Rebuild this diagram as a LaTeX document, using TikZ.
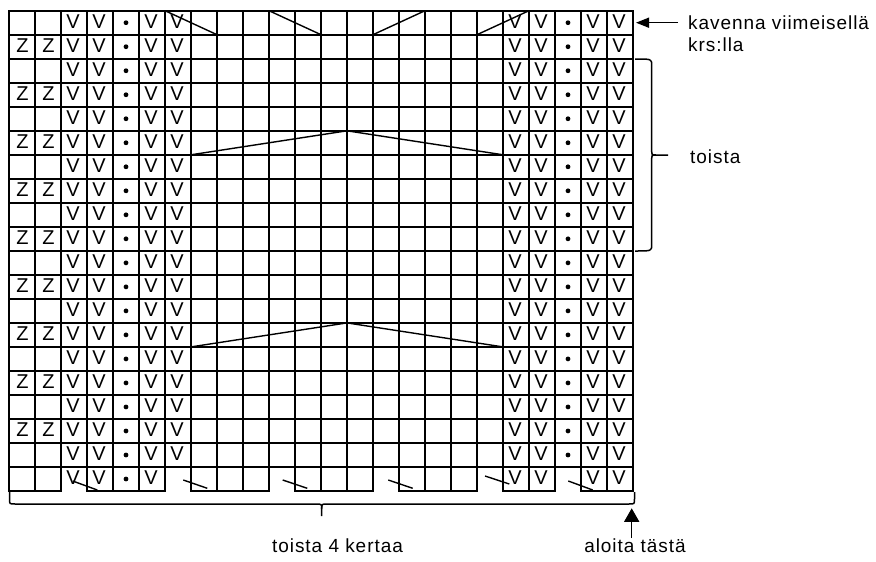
\documentclass[tikz,border=0pt]{standalone}
\usepackage{fontspec}
\setmainfont{Liberation Sans}
\newfontfamily\labelfont[LetterSpace=5]{Liberation Sans}
\usetikzlibrary{arrows.meta}
\begin{document}
\begin{tikzpicture}[x=1pt,y=-1pt,
  gridline/.style={line width=1.7pt, line cap=rect},
  thinline/.style={line width=1.4pt},
  sym/.style={font=\fontsize{20}{20}\selectfont, anchor=base, inner sep=0pt},
  dotmark/.style={circle, fill=black, inner sep=0pt, minimum size=4.8pt},
  lbl/.style={font=\labelfont\fontsize{19}{21}\selectfont, inner sep=0pt, anchor=base west},
  lblc/.style={font=\labelfont\fontsize{19}{21}\selectfont, inner sep=0pt, anchor=base},
  arrL/.style={line width=1.5pt, -{Triangle[length=13pt,width=10pt]}},
  arrU/.style={line width=1.5pt, -{Triangle[length=13.5pt,width=15pt]}},
  brace/.style={line width=1.5pt}
]
\useasboundingbox (0,0) rectangle (876,562);
\fill[white] (0,0) rectangle (876,562);
% vertical grid lines
\foreach \i in {0,...,24}
  \draw[gridline] ({9+26*\i},10.7) -- ({9+26*\i},491);
% horizontal grid lines
\foreach \j in {0,...,19}
  \draw[gridline] (9,{10.7+24.015*\j}) -- (633,{10.7+24.015*\j});
% bottom line, with gaps
\foreach \a/\b in {9/61, 87/165, 191/269, 295/373, 399/477, 503/555, 581/633}
  \draw[gridline] (\a,491) -- (\b,491);
% symbols rows 1..19
\foreach \r in {1,...,19} {
  \foreach \c in {3,4,6,7,20,21,23,24}
    \node[sym] (v\r-\c) at ({9+26*(\c-1)+12},{10.7+24.015*(\r-1)+17.7}) {V};
  \foreach \c in {5,22}
    \node[dotmark] (d\r-\c) at ({9+26*(\c-1)+13},{10.7+24.015*(\r-1)+12}) {};
}
% bottom row symbols
\foreach \c in {3,4,6,20,21,23,24}
  \node[sym] (v20-\c) at ({9+26*(\c-1)+12},{10.7+24.015*19+17.7}) {V};
\node[dotmark] (d20-5) at ({9+26*4+13},{10.7+24.015*19+12}) {};
% Z marks
\foreach \r in {2,4,...,18}
  \foreach \c in {1,2}
    \node[sym] (z\r-\c) at ({9+26*(\c-1)+13.5},{10.7+24.015*(\r-1)+17.7}) {Z};
% top row diagonals
\draw[thinline] (165,10.7) -- (217,34.7);
\draw[thinline] (269,10.7) -- (321,34.7);
\draw[thinline] (373,34.7) -- (425,10.7);
\draw[thinline] (477,34.7) -- (529,10.7);
% chevrons
\draw[thinline] (191,154.8) -- (347,130.8) -- (503,154.8);
\draw[thinline] (191,346.9) -- (347,322.9) -- (503,346.9);
% bottom row diagonals
\draw[thinline] (72.7,481) -- (97.3,490);
\draw[thinline] (183.3,480) -- (207.3,488.3);
\draw[thinline] (282.7,480) -- (307.3,488.3);
\draw[thinline] (388.3,480) -- (412.7,488.3);
\draw[thinline] (485,476) -- (509.3,484);
\draw[thinline] (568.3,481) -- (592.7,490);
% right brace
\draw[brace] (635,59) .. controls (651.7,59) .. (651.7,65) -- (651.7,150)
  .. controls (651.7,155) .. (656,155) -- (668,155);
\draw[brace] (656,155) .. controls (651.7,155) .. (651.7,160) -- (651.7,245)
  .. controls (651.7,251) .. (635,251);
% bottom brace
\draw[brace] (9.5,492) -- (9.5,499) .. controls (9.5,504) .. (15,504) -- (316,504)
  .. controls (321.7,504) .. (321.7,509) -- (321.7,516);
\draw[brace] (321.7,509) .. controls (321.7,504) .. (327,504) -- (629,504)
  .. controls (634.5,504) .. (634.5,499) -- (634.5,492);
% labels
\node[lbl] (kav) at (688,30) {kavenna viimeisellä};
\node[lbl] (krs) at (688,51.5) {krs:lla};
\node[lbl] (toista) at (690,163) {toista};
\node[lblc] (kertaa) at (337.5,552) {toista 4 kertaa};
\node[lblc] (aloita) at (635,552) {aloita tästä};
% arrows
\coordinate (kavtail) at (678,22.7);
\coordinate (kavtip) at (636,22.7);
\draw[arrL] (kavtail) -- (kavtip);
\coordinate (altail) at (631.7,538);
\coordinate (altip) at (631.7,508.3);
\draw[arrU] (altail) -- (altip);
\end{tikzpicture}
\end{document}
